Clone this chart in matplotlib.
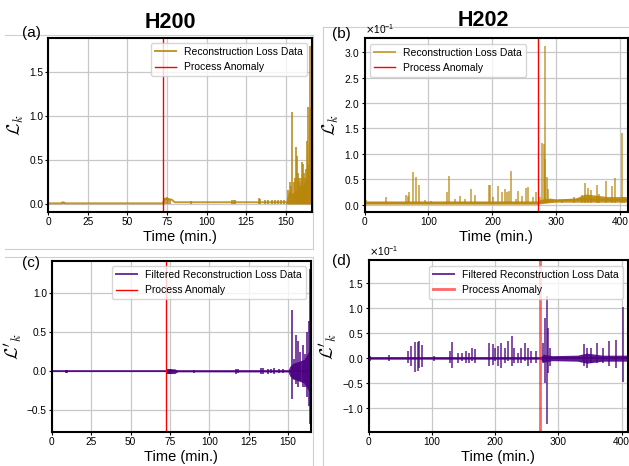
import matplotlib
matplotlib.use("Agg")
import matplotlib.pyplot as plt
import numpy as np
from matplotlib.lines import Line2D

plt.rcParams["font.family"] = ["Liberation Sans", "DejaVu Sans"]

# ---------------- H200 reconstruction loss (a) ----------------
a_base_t = [0, 8, 9.5, 11, 72.5, 73.5, 78, 80, 150]
a_base_v = [0.008, 0.008, 0.02, 0.008, 0.008, 0.06, 0.05, 0.02, 0.02]
a_band_t = [150, 151, 152, 154, 156, 158, 160, 162, 163, 164, 164.6, 165, 166.5]
a_band_hi = [0.02, 0.1, 0.15, 0.12, 0.15, 0.18, 0.2, 0.25, 0.3, 0.35, 1.1, 1.1, 1.1]
a_spk_t = [9, 10, 74, 75, 76, 77, 90, 116, 117, 118, 133, 134, 137, 139, 141, 143,
           145, 147, 149, 151.5, 152.5, 153.5, 154.2, 155.3, 155.8, 156.3, 157.0,
           157.5, 158.0, 158.5, 159.0, 159.5, 160.0, 160.5, 161.0, 161.5, 162.0,
           162.5, 163.3, 163.8, 164.3, 165.4]
a_spk_v = [0.025, 0.025, 0.07, 0.075, 0.065, 0.06, 0.035, 0.045, 0.045, 0.04, 0.07,
           0.06, 0.045, 0.04, 0.05, 0.045, 0.04, 0.04, 0.05, 0.16, 0.25, 0.2, 1.04,
           0.25, 0.3, 0.65, 0.55, 0.35, 0.3, 0.25, 0.22, 0.3, 0.48, 0.25, 0.45, 0.35,
           0.3, 0.4, 0.71, 0.45, 1.1, 1.79]
a_yticks = [0.0, 0.5, 1.0, 1.5]
a_yticklabels = ["0.0", "0.5", "1.0", "1.5"]
h200_xticks = [0, 25, 50, 75, 100, 125, 150]

# ---------------- H202 reconstruction loss (b) ----------------
b_base_t = [0, 272, 275, 290, 330, 360, 412]
b_base_v = [0.004, 0.004, 0.006, 0.008, 0.01, 0.01, 0.009]
b_band_t = [0, 272, 276, 290, 300, 330, 345, 360, 380, 412]
b_band_hi = [0.007, 0.007, 0.011, 0.013, 0.011, 0.013, 0.021, 0.019, 0.016, 0.016]
b_band_lo = [0.001, 0.001, 0.002, 0.004, 0.005, 0.005, 0.005, 0.005, 0.005, 0.005]
b_spk_t = [2, 33, 65.4, 67.5, 70, 76, 81, 84.5, 94, 104.5, 129, 132, 141, 150, 156.5,
           167, 173, 194.5, 196, 201, 209.5, 215, 219, 223.5, 226, 229, 236.5, 240,
           247, 252, 256, 264, 267.5, 274.5, 278, 280, 281.5, 283, 285, 286.5, 309,
           327, 340, 344, 349, 353.5, 363, 366.5, 377, 387.5, 391, 403, 406.5]
b_spk_v = [0.010, 0.015, 0.020, 0.018, 0.025, 0.064, 0.055, 0.039, 0.010, 0.008,
           0.025, 0.056, 0.012, 0.018, 0.012, 0.031, 0.020, 0.039, 0.038, 0.015,
           0.036, 0.025, 0.031, 0.025, 0.027, 0.067, 0.012, 0.027, 0.017, 0.032,
           0.034, 0.015, 0.025, 0.015, 0.121, 0.120, 0.312, 0.090, 0.055, 0.030,
           0.010, 0.015, 0.020, 0.043, 0.033, 0.028, 0.039, 0.022, 0.047, 0.036,
           0.052, 0.141, 0.015]

# ---------------- H200 filtered loss (c) ----------------
c_band_t = [0, 72.5, 73, 78, 80, 150, 151, 153, 156, 160, 163, 164.5]
c_band_hi = [0.005, 0.005, 0.03, 0.03, 0.008, 0.01, 0.06, 0.1, 0.12, 0.15, 0.25, 0.4]
c_band_lo = [-0.005, -0.005, -0.03, -0.03, -0.008, -0.01, -0.06, -0.1, -0.12, -0.15, -0.25, -0.4]
c_spk_t = [9, 10, 74, 75, 76, 90, 117, 118, 133, 134, 137, 139, 141, 144, 147, 152.4,
           153.5, 155.3, 156.3, 157.8, 159.5, 161, 162, 163, 164, 164.4]
c_spk_hi = [0.02, 0.02, 0.03, 0.03, 0.03, 0.02, 0.03, 0.03, 0.04, 0.04, 0.03, 0.03,
            0.04, 0.03, 0.03, 0.78, 0.15, 0.46, 0.38, 0.25, 0.34, 0.22, 0.5, 0.64,
            1.31, 0.8]
c_spk_lo = [-0.02, -0.02, -0.03, -0.03, -0.02, -0.02, -0.03, -0.02, -0.04, -0.03,
            -0.03, -0.02, -0.03, -0.02, -0.02, -0.35, -0.1, -0.16, -0.2, -0.12, -0.2,
            -0.2, -0.33, -0.45, -0.68, -0.4]

# ---------------- H202 filtered loss (d) ----------------
d_band_t = [0, 272, 276, 290, 330, 345, 370, 412]
d_band_hi = [0.002, 0.002, 0.008, 0.005, 0.006, 0.01, 0.006, 0.006]
d_band_lo = [-0.002, -0.002, -0.008, -0.005, -0.006, -0.01, -0.006, -0.006]
d_spk_t = [3, 32, 63, 67, 74, 77.5, 80, 84.5, 104, 128, 132, 141, 147, 153.5, 159,
           163, 168, 191, 196, 199.5, 205, 210, 215, 221, 226, 229.5, 236, 241,
           246.5, 252, 257, 265, 276, 279, 281.5, 284, 287, 340, 345, 351, 361, 371,
           380, 390.5, 402]
d_spk_hi = [0.005, 0.006, 0.015, 0.025, 0.033, 0.033, 0.035, 0.027, 0.005, 0.015,
            0.033, 0.010, 0.010, 0.015, 0.010, 0.020, 0.018, 0.030, 0.028, 0.020,
            0.025, 0.030, 0.020, 0.035, 0.045, 0.020, 0.010, 0.020, 0.030, 0.020,
            0.015, 0.015, 0.030, 0.080, 0.125, 0.060, 0.020, 0.028, 0.020, 0.020,
            0.030, 0.020, 0.035, 0.037, 0.103]
d_spk_lo = [-0.005, -0.006, -0.010, -0.015, -0.027, -0.025, -0.020, -0.018, -0.005,
            -0.010, -0.020, -0.010, -0.005, -0.010, -0.010, -0.005, -0.010, -0.015,
            -0.013, -0.005, -0.015, -0.020, -0.010, -0.005, -0.015, -0.010, -0.010,
            -0.010, -0.005, -0.015, -0.010, -0.010, -0.010, -0.050, -0.132, -0.030,
            -0.015, -0.015, -0.020, -0.010, -0.010, -0.010, -0.015, -0.020, -0.048]

anomaly_h200 = 72.5
anomaly_h202 = 271.5

gold = "darkgoldenrod"
purple = "indigo"

fig = plt.figure(figsize=(6.29, 4.66), dpi=100)

ax_a = fig.add_axes([0.0763, 0.5444, 0.4197, 0.3746])
ax_b = fig.add_axes([0.5795, 0.5444, 0.4189, 0.3734])
ax_c = fig.add_axes([0.0822, 0.0723, 0.4122, 0.3683])
ax_d = fig.add_axes([0.5859, 0.0723, 0.4125, 0.3687])


def style_ax(ax, sci=False):
    ax.grid(True, color="#c8c8c8", linewidth=0.9)
    ax.set_axisbelow(True)
    for s in ax.spines.values():
        s.set_edgecolor("black")
        s.set_linewidth(1.5)
    ax.tick_params(labelsize=7.3, length=2, width=0.8, pad=1.5)
    if sci:
        ax.ticklabel_format(axis="y", style="sci", scilimits=(0, 0), useMathText=True)
        ax.yaxis.get_offset_text().set_fontsize(7.3)
    ax.set_xlabel("Time (min.)", fontsize=10.5, labelpad=2)


lw_spk = 1.3

# (a)
ax_a.plot(a_base_t, a_base_v, color=gold, lw=1.4, alpha=0.85, label="Reconstruction Loss Data")
ax_a.fill_between(a_band_t, 0, a_band_hi, color=gold, alpha=0.9, lw=0)
ax_a.vlines(a_spk_t, 0, a_spk_v, color=gold, lw=lw_spk, alpha=0.85)
ax_a.axvline(anomaly_h200, color="red", lw=1.0, label="Process Anomaly")
ax_a.set_xlim(0, 166.5)
ax_a.set_ylim(-0.094, 1.885)
ax_a.set_xticks(h200_xticks)
ax_a.set_yticks(a_yticks, a_yticklabels)
ax_a.set_ylabel(r"$\mathcal{L}_k$", fontsize=13, math_fontfamily="cm", labelpad=2)
style_ax(ax_a)
ax_a.legend(loc="upper right", fontsize=7.5, framealpha=0.8)

# (b)
ax_b.plot(b_base_t, b_base_v, color=gold, lw=1.4, alpha=0.75, label="Reconstruction Loss Data")
ax_b.fill_between(b_band_t, b_band_lo, b_band_hi, color=gold, alpha=0.9, lw=0)
ax_b.vlines(b_spk_t, 0.003, b_spk_v, color=gold, lw=lw_spk, alpha=0.7)
ax_b.axvline(anomaly_h202, color="red", lw=1.0, label="Process Anomaly")
ax_b.set_xlim(0, 412)
ax_b.set_ylim(-0.015, 0.3275)
ax_b.set_ylabel(r"$\mathcal{L}_k$", fontsize=13, math_fontfamily="cm", labelpad=2)
style_ax(ax_b, sci=True)
ax_b.legend(loc="upper left", fontsize=7.5, framealpha=0.8)

# (c)
ax_c.plot([0, 164.5], [0, 0], color=purple, lw=1.4, alpha=0.8, label="Filtered Reconstruction Loss Data")
ax_c.fill_between(c_band_t, c_band_lo, c_band_hi, color=purple, alpha=0.9, lw=0)
ax_c.vlines(c_spk_t, c_spk_lo, c_spk_hi, color=purple, lw=lw_spk, alpha=0.8)
ax_c.axvline(anomaly_h200, color="red", lw=1.0, label="Process Anomaly")
ax_c.set_xlim(0, 164.5)
ax_c.set_ylim(-0.78, 1.41)
ax_c.set_xticks(h200_xticks)
ax_c.set_ylabel(r"$\mathcal{L}'_k$", fontsize=13, math_fontfamily="cm", labelpad=2)
style_ax(ax_c)
ax_c.legend(loc="upper right", fontsize=7.5, framealpha=0.8)

# (d)
ax_d.plot([0, 412], [0, 0], color=purple, lw=1.4, alpha=0.8, label="Filtered Reconstruction Loss Data")
ax_d.fill_between(d_band_t, d_band_lo, d_band_hi, color=purple, alpha=0.9, lw=0)
ax_d.vlines(d_spk_t, d_spk_lo, d_spk_hi, color=purple, lw=lw_spk, alpha=0.75)
ax_d.axvline(anomaly_h202, color="red", lw=2.0, alpha=0.6, label="Process Anomaly")
ax_d.set_xlim(0, 410)
ax_d.set_ylim(-0.148, 0.195)
ax_d.set_ylabel(r"$\mathcal{L}'_k$", fontsize=13, math_fontfamily="cm", labelpad=2)
style_ax(ax_d, sci=True)
ax_d.legend(loc="upper right", fontsize=7.5, framealpha=0.8)

# titles and panel letters
fig.text(170 / 629, 1 - 23 / 466, "H200", ha="center", va="center", fontsize=15.5, fontweight="bold")
fig.text(483 / 629, 1 - 21 / 466, "H202", ha="center", va="center", fontsize=15.5, fontweight="bold")
for lbl, x, y in [("(a)", 31.5, 33), ("(b)", 341, 34), ("(c)", 31, 262.5), ("(d)", 341.5, 261.5)]:
    fig.text(x / 629, 1 - y / 466, lbl, ha="center", va="center", fontsize=11)

# faint separator lines from the original composite
sep = "#cfcfcf"
for xs, ys in [([5, 313], [34.5, 34.5]), ([313, 313], [34.5, 249]), ([5, 313], [249, 249]),
               ([5, 313], [256.5, 256.5]), ([313, 313], [256.5, 466]),
               ([323, 629], [27, 27]), ([323, 323], [27, 466])]:
    fig.add_artist(Line2D([x / 629 for x in xs], [1 - y / 466 for y in ys],
                          color=sep, lw=0.8, zorder=0))

fig.savefig("out.png", dpi=100)
